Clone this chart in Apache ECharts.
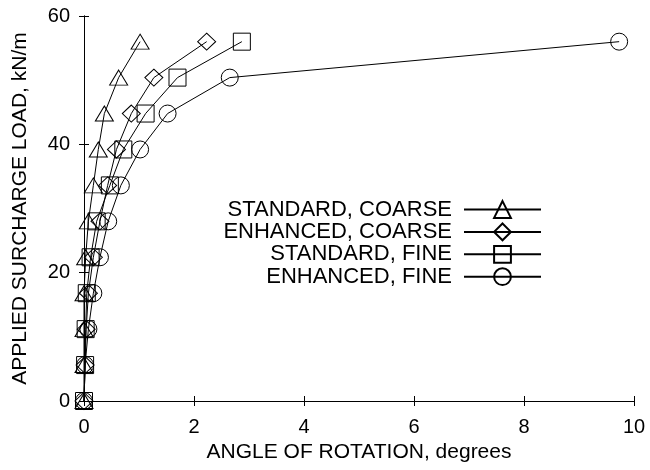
<!DOCTYPE html>
<html><head><meta charset="utf-8">
<script src="https://cdn.jsdelivr.net/npm/echarts@6/dist/echarts.min.js"></script>
<style>html,body{margin:0;padding:0;background:#fff}#c{width:650px;height:470px}</style>
</head><body><div id="c"></div>
<script>
const loads = [0, 5.6, 11.2, 16.8, 22.4, 28, 33.6, 39.2, 44.8, 50.4, 56];
const standardCoarse = [0, 0, 0, 0, 0.03, 0.08, 0.17, 0.26, 0.37, 0.63, 1.02];
const enhancedCoarse = [0, 0.02, 0.04, 0.08, 0.17, 0.29, 0.43, 0.59, 0.86, 1.27, 2.23];
const standardFine = [0, 0.02, 0.03, 0.05, 0.12, 0.23, 0.47, 0.715, 1.12, 1.70, 2.87];
const enhancedFine = [0, 0.02, 0.08, 0.17, 0.29, 0.44, 0.67, 1.02, 1.52, 2.65, 9.73];
const seriesNames = ['STANDARD, COARSE', 'ENHANCED, COARSE', 'STANDARD, FINE', 'ENHANCED, FINE'];
const xTicks = [0, 2, 4, 6, 8, 10];
const yTicks = [0, 20, 40, 60];

const FONT = 'Liberation Sans, Arial, sans-serif';
const data = [standardCoarse, enhancedCoarse, standardFine, enhancedFine];
const symbols = ['triangle', 'diamond', 'rect', 'circle'];
const sizes = [[18, 15], [18, 17], [17, 17], [17, 17]];

const series = data.map((xs, i) => ({
  name: seriesNames[i],
  type: 'line',
  data: xs.map((x, j) => [x, loads[j]]),
  symbol: symbols[i],
  symbolSize: sizes[i],
  showAllSymbol: true,
  lineStyle: { color: '#000', width: 1 },
  itemStyle: { color: 'rgba(0,0,0,0)', borderColor: '#000', borderWidth: 1 },
  emphasis: { disabled: true },
  animation: false,
  z: 3
}));

const legends = seriesNames.map((n, i) => ({
  data: [n],
  right: 108,
  top: 198.5 + i * 22.4,
  align: 'right',
  itemWidth: 77,
  itemHeight: 21,
  itemGap: 0,
  padding: 0,
  textStyle: { fontFamily: FONT, fontSize: 22, lineHeight: 21, color: '#000', padding: [0, 7, 0, 0] },
  selectedMode: false
}));

const axisBase = {
  min: 0,
  axisLine: { show: true, lineStyle: { color: '#000', width: 1 } },
  axisTick: { show: true, inside: true, length: 5, lineStyle: { color: '#000' } },
  splitLine: { show: false },
  axisLabel: { fontFamily: FONT, fontSize: 20, color: '#000' }
};

const option = {
  animation: false,
  backgroundColor: '#fff',
  grid: { left: 84, right: 16, top: 16, bottom: 69, show: false },
  legend: legends,
  xAxis: [
    Object.assign({}, axisBase, {
      type: 'value', max: 10, interval: 2, position: 'bottom',
      name: 'ANGLE OF ROTATION, degrees', nameLocation: 'middle', nameGap: 37,
      nameTextStyle: { fontFamily: FONT, fontSize: 21, color: '#000' },
      axisLabel: Object.assign({}, axisBase.axisLabel, { margin: 16 })
    }),
    Object.assign({}, axisBase, {
      type: 'value', max: 10, interval: 2, position: 'top',
      axisLabel: { show: false }
    })
  ],
  yAxis: [
    Object.assign({}, axisBase, {
      type: 'value', max: 60, interval: 20, position: 'left',
      name: 'APPLIED SURCHARGE LOAD, kN/m', nameLocation: 'middle', nameGap: 53,
      nameTextStyle: { fontFamily: FONT, fontSize: 21, color: '#000' },
      axisLabel: Object.assign({}, axisBase.axisLabel, { margin: 14 })
    }),
    Object.assign({}, axisBase, {
      type: 'value', max: 60, interval: 20, position: 'right',
      axisLabel: { show: false }
    })
  ],
  series: series
};

const chart = echarts.init(document.getElementById('c'), null, { renderer: 'canvas' });
chart.setOption(option);
</script>
</body></html>
